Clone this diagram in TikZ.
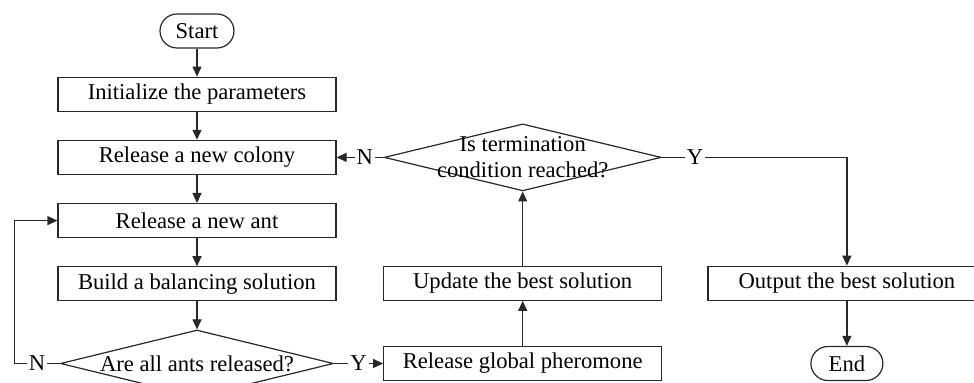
\documentclass[tikz,border=0pt]{standalone}
\usepackage{fontspec}
\setmainfont{Liberation Serif}
\usetikzlibrary{arrows.meta, positioning, shapes.geometric}
\definecolor{FlowLine}{RGB}{40, 40, 40}
\tikzset{
  box/.style={rectangle, draw=FlowLine, line width=0.6pt, fill=white,
              minimum width=139pt, minimum height=17pt, inner sep=0pt,
              font=\fontsize{11.3}{13}\selectfont, text=black, align=center},
  endbox/.style={rectangle, rounded corners=8.5pt, draw=FlowLine, line width=0.6pt,
                 minimum width=#1, minimum height=17pt, inner sep=0pt,
                 font=\fontsize{11.3}{13}\selectfont, text=black},
  decbox/.style={diamond, draw=FlowLine, line width=0.6pt,
                 minimum width=#1, minimum height=33.5pt, inner sep=0pt},
  arr/.style={-{Triangle[length=5pt, width=4.5pt]}, line width=0.6pt, draw=FlowLine},
  yn/.style={fill=white, inner sep=1pt, font=\fontsize{11.3}{13}\selectfont},
}
\begin{document}
\begin{tikzpicture}[node distance=14pt]
      \useasboundingbox (0,0) rectangle (487pt,-191.5pt);
      \node[endbox=37pt] (st) at (98.5pt,-15.5pt) {Start};
      \node[box, below=of st] (ini) {Initialize the parameters};
      \node[box, below=of ini] (col) {Release a new colony};
      \node[box, below=of col] (ant) {Release a new ant};
      \node[box, below=of ant] (bld) {Build a balancing solution};
      \node[decbox=136.5pt, below=of bld,
            label={[font=\fontsize{11.3}{13}\selectfont]center:Are all ants released?}] (all) {};
      \coordinate[left=21.5pt of ant.west] (loop);

      \node[box, right=24.5pt of all.east] (phe) {Release global pheromone};
      \node[box, above=22.5pt of phe] (upd) {Update the best solution};
      \node[decbox=138.5pt, at={(upd |- col)},
            label={[font=\fontsize{11.3}{13}\selectfont, align=center]center:{Is termination\\condition reached?}}] (stop) {};

      \node[box, right=22.5pt of upd] (out) {Output the best solution};
      \node[endbox=36pt, below=22.5pt of out] (fin) {End};

      \draw[arr] (st) -- (ini);
      \draw[arr] (ini) -- (col);
      \draw[arr] (col) -- (ant);
      \draw[arr] (ant) -- (bld);
      \draw[arr] (bld) -- (all);
      \draw[arr] (all.west) -- node[yn] {N} (all.west -| loop) |- (ant.west);
      \draw[arr] (all.east) -- node[yn] {Y} (phe.west);
      \draw[arr] (phe) -- (upd);
      \draw[arr] (upd) -- (stop);
      \draw[arr] (stop.west) -- node[yn, pos=0.4] {N} (col.east);
      \draw[arr] (stop.east) -| node[yn, pos=0.09] {Y} (out.north);
      \draw[arr] (out) -- (fin);
    \end{tikzpicture}
\end{document}
